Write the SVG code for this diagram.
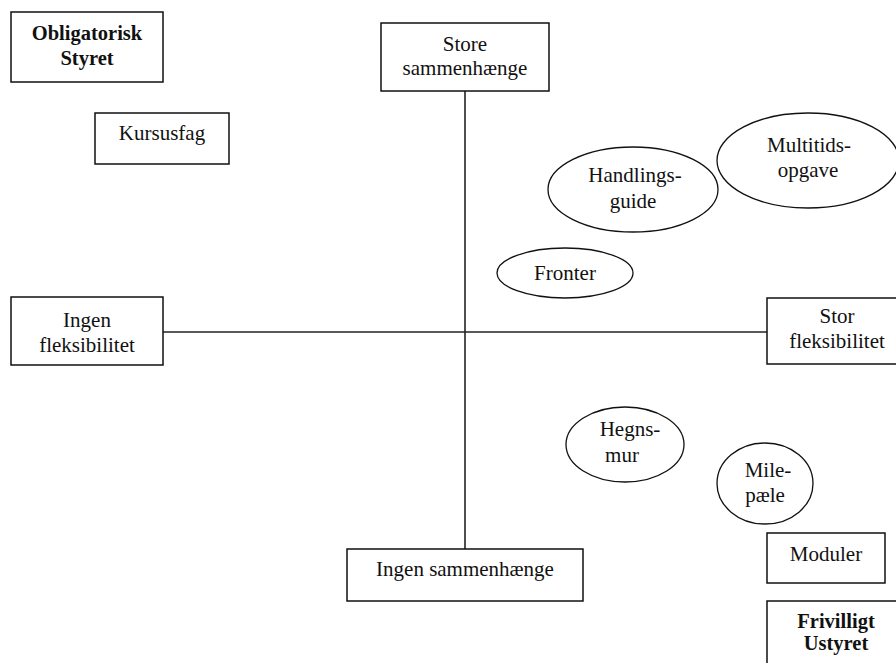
<svg xmlns="http://www.w3.org/2000/svg" width="896" height="663" viewBox="0 0 896 663">
<style>
  .box { fill: #fff; stroke: #111; stroke-width: 1.5; }
  .ell { fill: #fff; stroke: #111; stroke-width: 1.3; }
  .axis { stroke: #222; stroke-width: 1.6; fill: none; }
  text { font-family: "Liberation Serif", "DejaVu Serif", serif; font-size: 21px; fill: #111; text-anchor: middle; }
  .b { font-weight: bold; font-size: 20.5px; }
</style>
<rect x="0" y="0" width="896" height="663" fill="#fff"/>
<g id="connectors">
  <line class="axis" x1="465" y1="91" x2="465" y2="549"/>
  <line class="axis" x1="163" y1="332" x2="767" y2="332"/>
</g>
<g id="obligatorisk">
  <rect class="box" x="11" y="12" width="152" height="70"/>
  <text class="b" x="87" y="40">Obligatorisk</text>
  <text class="b" x="87" y="65">Styret</text>
</g>
<g id="kursusfag">
  <rect class="box" x="95" y="113" width="134" height="51"/>
  <text x="162" y="140">Kursusfag</text>
</g>
<g id="store-sammenhaenge">
  <rect class="box" x="381" y="23" width="168" height="68"/>
  <text x="465" y="50.5">Store</text>
  <text x="465" y="75">sammenhænge</text>
</g>
<g id="ingen-fleksibilitet">
  <rect class="box" x="11" y="297" width="152" height="68"/>
  <text x="87" y="327">Ingen</text>
  <text x="87" y="352">fleksibilitet</text>
</g>
<g id="stor-fleksibilitet">
  <rect class="box" x="767" y="298" width="140" height="66"/>
  <text x="837" y="323">Stor</text>
  <text x="837" y="348">fleksibilitet</text>
</g>
<g id="handlingsguide">
  <ellipse class="ell" cx="633" cy="189.5" rx="85" ry="42.5"/>
  <text x="635" y="182">Handlings-</text>
  <text x="633" y="208">guide</text>
</g>
<g id="multitidsopgave">
  <ellipse class="ell" cx="808" cy="160.5" rx="91" ry="47.5"/>
  <text x="809" y="152">Multitids-</text>
  <text x="808" y="177">opgave</text>
</g>
<g id="fronter">
  <ellipse class="ell" cx="565" cy="273" rx="68" ry="25"/>
  <text x="565" y="280">Fronter</text>
</g>
<g id="hegnsmur">
  <ellipse class="ell" cx="625" cy="444.5" rx="59" ry="37.5"/>
  <text x="630" y="436">Hegns-</text>
  <text x="622" y="462">mur</text>
</g>
<g id="milepaele">
  <ellipse class="ell" cx="765" cy="483.5" rx="48" ry="40.5"/>
  <text x="768" y="477">Mile-</text>
  <text x="765" y="502">pæle</text>
</g>
<g id="ingen-sammenhaenge">
  <rect class="box" x="347" y="549" width="236" height="52"/>
  <text x="465" y="576">Ingen sammenhænge</text>
</g>
<g id="moduler">
  <rect class="box" x="767" y="533" width="118" height="50"/>
  <text x="826" y="561">Moduler</text>
</g>
<g id="frivilligt">
  <rect class="box" x="767" y="601" width="138" height="72"/>
  <text class="b" x="836" y="628">Frivilligt</text>
  <text class="b" x="836" y="650">Ustyret</text>
</g>
</svg>
